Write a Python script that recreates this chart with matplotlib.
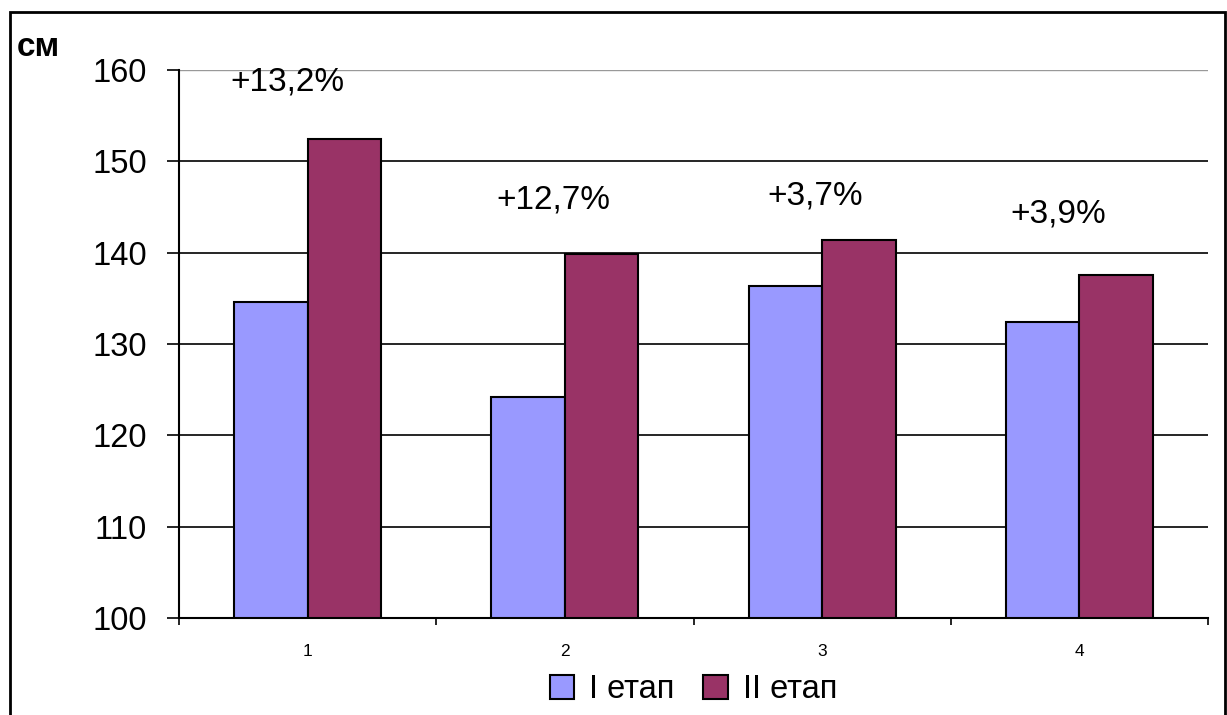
import matplotlib.pyplot as plt
import numpy as np
from matplotlib.patches import Rectangle

plt.rcParams['font.family'] = ['Liberation Sans', 'DejaVu Sans']

# Heights per group, stage I and stage II
groups = ['1', '2', '3', '4']
stage1 = [134.6, 124.2, 136.4, 132.4]
stage2 = [152.4, 139.9, 141.4, 137.6]
gains = ['+13,2%', '+12,7%', '+3,7%', '+3,9%']
gain_pos = [(-0.08, 158.7), (0.954, 145.8), (1.972, 146.2), (2.917, 144.2)]
series_names = ['I етап', 'II етап']

fig = plt.figure(figsize=(12.27, 7.15), dpi=100)
ax = fig.add_axes([0.1459, 0.1357, 0.9845 - 0.1459, 0.902 - 0.1357])

x = np.arange(len(groups))
w = 0.286
b1 = ax.bar(x - w / 2, [v - 100 for v in stage1], w, bottom=100,
            color='#9999FF', edgecolor='black', linewidth=1.5, zorder=3)
b2 = ax.bar(x + w / 2, [v - 100 for v in stage2], w, bottom=100,
            color='#993366', edgecolor='black', linewidth=1.5, zorder=3)

ax.set_xlim(-0.5, 3.5)
ax.set_ylim(100, 160)
ax.set_yticks(range(100, 161, 10))
for yv in range(110, 160, 10):
    ax.axhline(yv, color='black', linewidth=1.2, zorder=1)
ax.axhline(160, color='#999999', linewidth=1.0, zorder=1)

ax.tick_params(axis='y', direction='out', length=9, width=1.2, labelsize=23.5, pad=14)
ax.set_xticks(np.arange(-0.5, 4.0, 1.0))
ax.set_xticklabels([])
ax.tick_params(axis='x', which='major', direction='out', length=5, width=1.2)
ax.set_xticks(x, minor=True)
ax.set_xticklabels(groups, minor=True)
ax.tick_params(axis='x', which='minor', length=0, labelsize=12.5, pad=19)

for s in ['top', 'right']:
    ax.spines[s].set_visible(False)
for s in ['left', 'bottom']:
    ax.spines[s].set_linewidth(1.5)

for label, (gx, gy) in zip(gains, gain_pos):
    ax.text(gx, gy, label, ha='center', va='center', fontsize=24)

fig.text(17 / 1227, 1 - 47 / 715, 'см', fontsize=24, fontweight='bold',
         ha='left', va='center')

fig.legend([b1, b2], series_names, loc='center', bbox_to_anchor=(0.565, 1 - 690 / 715),
           ncol=2, frameon=False, fontsize=23.5, handlelength=0.75, handleheight=0.75,
           handletextpad=0.45, columnspacing=0.9)

# outer frame around the chart
fig.patches.append(Rectangle((10 / 1227, -0.01), 1215 / 1227, 1 - 12 / 715 + 0.01,
                             transform=fig.transFigure, fill=False,
                             edgecolor='black', linewidth=2))

fig.savefig('out.png', dpi=100)
